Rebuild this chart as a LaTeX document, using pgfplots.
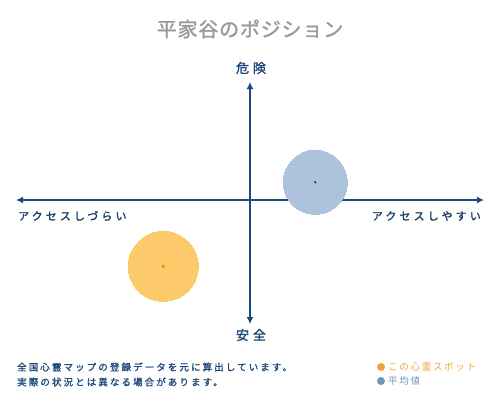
\documentclass[border=0pt]{standalone}
\usepackage{pgfplots}
\pgfplotsset{compat=1.18}
\usepackage{fontspec}
\newfontfamily\jp{Noto Sans CJK JP}
\newfontfamily\jpb{Noto Sans CJK JP}[FakeBold=1.5]
\usetikzlibrary{arrows.meta}
\definecolor{axisblue}{HTML}{1E4A7A}
\definecolor{orangefill}{HTML}{FCC96B}
\definecolor{bluefill}{HTML}{ADC2DB}
\definecolor{titlegray}{HTML}{999999}
\definecolor{legorange}{HTML}{F0A040}
\definecolor{legblue}{HTML}{6F94BF}
\begin{document}
\begin{tikzpicture}
\begin{axis}[
  scale only axis, width=500pt, height=400pt,
  xmin=0, xmax=500, ymin=0, ymax=400, y dir=reverse,
  axis lines=none, clip=false,
]
\path (axis cs:0,0) rectangle (axis cs:500,400);
% data: average (blue) and this spot (orange)
\addplot[only marks, mark=*, mark size=32pt, mark options={draw=bluefill, fill=bluefill, line width=0pt}] coordinates {(315.3,182.3)};
\addplot[only marks, mark=*, mark size=35pt, mark options={draw=orangefill, fill=orangefill, line width=0pt}] coordinates {(163.3,266.3)};
% axes
\draw[axisblue, line width=2pt, -{Latex[length=7pt,width=7pt]}] (axis cs:250,200) -- (axis cs:250,82);
\draw[axisblue, line width=2pt, -{Latex[length=7pt,width=7pt]}] (axis cs:250,200) -- (axis cs:250,324);
\draw[axisblue, line width=2pt, -{Latex[length=7pt,width=7pt]}] (axis cs:250,200) -- (axis cs:16,200);
\draw[axisblue, line width=2pt, -{Latex[length=7pt,width=7pt]}] (axis cs:250,200) -- (axis cs:484,200);
\addplot[only marks, mark=*, mark size=0.9pt, mark options={draw=black!80, fill=black!80}] coordinates {(315.3,182.3)};
\addplot[only marks, mark=*, mark size=1.5pt, mark options={draw=orange, fill=orange}] coordinates {(163.3,266.3)};
% texts
\node[text=titlegray, font=\jpb\fontsize{20}{20}\selectfont\addfontfeature{LetterSpace=4}] at (axis cs:250,29) {平家谷のポジション};
\node[text=axisblue, font=\jpb\fontsize{13}{13}\selectfont\addfontfeature{LetterSpace=30}] at (axis cs:251,68) {危険};
\node[text=axisblue, font=\jpb\fontsize{13}{13}\selectfont\addfontfeature{LetterSpace=30}] at (axis cs:251,335) {安全};
\node[text=axisblue!80!black, anchor=west, inner sep=0pt, font=\jpb\fontsize{11}{11}\selectfont\addfontfeature{LetterSpace=28}] at (axis cs:18,216) {アクセスしづらい};
\node[text=axisblue!80!black, anchor=east, inner sep=0pt, font=\jpb\fontsize{11}{11}\selectfont\addfontfeature{LetterSpace=28}] at (axis cs:481,216) {アクセスしやすい};
\node[text=axisblue, anchor=west, inner sep=0pt, font=\jpb\fontsize{9.5}{9.5}\selectfont\addfontfeature{LetterSpace=22}] at (axis cs:17,367) {全国心霊マップの登録データを元に算出しています。};
\node[text=axisblue, anchor=west, inner sep=0pt, font=\jpb\fontsize{9.5}{9.5}\selectfont\addfontfeature{LetterSpace=22}] at (axis cs:17,382) {実際の状況とは異なる場合があります。};
\fill[legorange] (axis cs:381,367) circle (4pt);
\fill[legblue] (axis cs:381,381) circle (4pt);
\node[text=legorange, anchor=west, inner sep=0pt, font=\jp\fontsize{9.5}{9.5}\selectfont\addfontfeature{LetterSpace=18}] at (axis cs:388,367) {この心霊スポット};
\node[text=legblue, anchor=west, inner sep=0pt, font=\jp\fontsize{9.5}{9.5}\selectfont\addfontfeature{LetterSpace=18}] at (axis cs:388,381) {平均値};
\end{axis}
\end{tikzpicture}
\end{document}
